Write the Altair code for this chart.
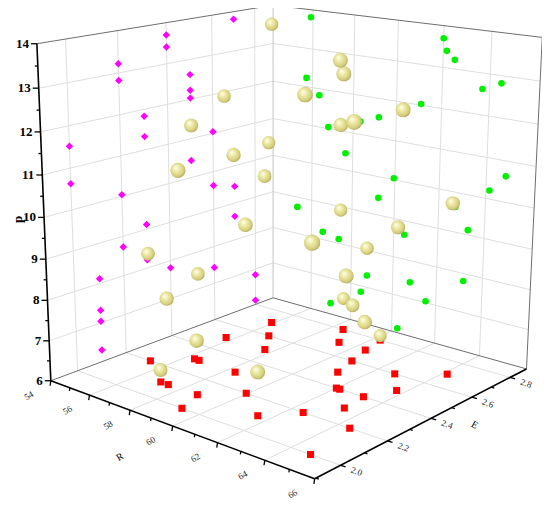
import numpy as np
import pandas as pd
import altair as alt

alt.data_transformers.disable_max_rows()

# ---------------- data ----------------
R_vals = [55.9, 62.0, 62.15, 62.5, 55.7, 56.34, 63.7, 64.47, 61.1, 59.2, 58.34, 56.8, 57.65, 59.95, 64.8,
          64.15, 59.25, 55.27, 56.57, 57.37, 60.49, 63.3, 58.77, 60.8, 63.18, 58.49, 57.0, 61.54, 60.27, 62.73]
E_vals = [2.7, 2.4, 2.4, 2.2, 2.5, 2.3, 2.5, 2.2, 2.5, 2.0, 2.3, 2.6, 2.5, 2.2, 2.0,
          2.7, 2.7, 2.2, 2.3, 2.1, 2.7, 2.3, 2.1, 2.6, 2.4, 2.8, 2.1, 2.1, 2.8, 2.6]
p_vals = [13.81, 13.70, 13.41, 13.22, 12.23, 11.83, 12.62, 12.82, 12.03, 11.52, 11.33, 11.04, 10.44, 10.04, 10.63,
          10.21, 9.45, 8.73, 8.21, 8.12, 8.64, 9.12, 7.32, 7.43, 7.81, 6.84, 6.30, 7.04, 6.12, 9.63]

R_major = [54, 56, 58, 60, 62, 64, 66]
E_major = [2.0, 2.2, 2.4, 2.6, 2.8]
p_major = [6, 7, 8, 9, 10, 11, 12, 13, 14]
R_LO, R_HI = 54, 66
E_LO, E_HI = 1.895, 2.890
P_LO, P_HI = 6, 14

# perspective camera (3x4 projection of the unit box onto the view)
CAM = np.array([[1.0412, 0.8782, 0.0043, -0.9567],
                [0.2566, -0.2948, -1.3015, 0.5630],
                [-0.1419, 0.1596, -0.0593, 1.0000]])
CX, CY, CS = 290, 240, 250


def proj(r, e, p):
    r = np.atleast_1d(np.asarray(r, float)); e = np.atleast_1d(np.asarray(e, float)); p = np.atleast_1d(np.asarray(p, float))
    u = (r - R_LO) / (R_HI - R_LO); v = (e - E_LO) / (E_HI - E_LO); w = (p - P_LO) / (P_HI - P_LO)
    q = CAM @ np.vstack([u, v, w, np.ones_like(u)])
    return CX + CS * q[0] / q[2], CY + CS * q[1] / q[2], q[2]


def segs(pairs):
    out = []
    for (a, b) in pairs:
        x1, y1, _ = proj(*a); x2, y2, _ = proj(*b)
        out.append({'x': x1[0], 'y': y1[0], 'x2': x2[0], 'y2': y2[0]})
    return pd.DataFrame(out)


R_grid = R_major[1:-1]
p_grid = p_major[1:-1]
grid = []
for e in E_major:
    grid.append(((R_LO, e, P_LO), (R_LO, e, P_HI)))
    grid.append(((R_LO, e, P_LO), (R_HI, e, P_LO)))
for pp in p_grid:
    grid.append(((R_LO, E_LO, pp), (R_LO, E_HI, pp)))
    grid.append(((R_LO, E_HI, pp), (R_HI, E_HI, pp)))
for r in R_grid:
    grid.append(((r, E_HI, P_LO), (r, E_HI, P_HI)))
    grid.append(((r, E_LO, P_LO), (r, E_HI, P_LO)))
grid_df = segs(grid)

edge_dark = segs([((R_LO, E_LO, P_HI), (R_LO, E_HI, P_HI)), ((R_LO, E_HI, P_HI), (R_HI, E_HI, P_HI)),
                  ((R_HI, E_HI, P_LO), (R_HI, E_HI, P_HI)), ((R_LO, E_LO, P_LO), (R_LO, E_HI, P_LO)),
                  ((R_LO, E_HI, P_LO), (R_HI, E_HI, P_LO))])
edge_light = segs([((R_LO, E_HI, P_LO), (R_LO, E_HI, P_HI))])
axes_df = segs([((R_LO, E_LO, P_LO), (R_LO, E_LO, P_HI)), ((R_LO, E_LO, P_LO), (R_HI, E_LO, P_LO)),
                ((R_HI, E_LO, P_LO), (R_HI, E_HI, P_LO))])

# ticks (screen-space direction and length are style)
ticks = []


def add_ticks(points, dx, dy):
    for (pt, L) in points:
        x, y, _ = proj(*pt)
        ticks.append({'x': x[0], 'y': y[0], 'x2': x[0] + dx * L, 'y2': y[0] + dy * L})


p_minor = [v + 0.5 for v in p_major[:-1]]
add_ticks([((R_LO, E_LO, v), 6) for v in p_major] + [((R_LO, E_LO, v), 3) for v in p_minor], -1, 0)
R_minor = [v + 1 for v in R_major[:-1]]
add_ticks([((v, E_LO, P_LO), 5) for v in R_major] + [((v, E_LO, P_LO), 3) for v in R_minor], -0.15, 1)
E_minor = [round(v + 0.1, 1) for v in E_major] + [1.9]
E_minor = [v for v in E_minor if E_LO < v < E_HI]
add_ticks([((R_HI, v, P_LO), 5) for v in E_major] + [((R_HI, v, P_LO), 3) for v in E_minor], 1, 0.3)
ticks_df = pd.DataFrame(ticks)


def lab(points, texts_, dx, dy):
    rows = []
    for pt, t in zip(points, texts_):
        x, y, _ = proj(*pt)
        rows.append({'x': x[0] + dx, 'y': y[0] + dy, 't': t})
    return pd.DataFrame(rows)


p_lab = lab([(R_LO, E_LO, v) for v in p_major], [str(v) for v in p_major], -8, 0)
R_lab = lab([(v, E_LO, P_LO) for v in R_major], [str(v) for v in R_major], -22, 15)
E_lab = lab([(R_HI, v, P_LO) for v in E_major], ['%.1f' % v for v in E_major], 16, 6)
p_title = lab([(R_LO, E_LO, 10.05)], ['p'], -26, 4)
R_title = lab([(59.5, E_LO, P_LO)], ['R'], -42, 35)
E_title = lab([(R_HI, 2.45, P_LO)], ['E'], 33, 12)

# points and their projections on floor / walls
sx, sy, sd = proj(R_vals, E_vals, p_vals)
fx, fy, _ = proj(R_vals, E_vals, [P_LO] * len(R_vals))
lx, ly, _ = proj([R_LO] * len(R_vals), E_vals, p_vals)
rx, ry, _ = proj(R_vals, [E_HI] * len(R_vals), p_vals)
sph = pd.DataFrame({'x': sx, 'y': sy, 'd': sd, 's': 205 * (np.mean(sd) / sd) ** 2}).sort_values('d', ascending=False)
sph['o'] = np.arange(len(sph))
floor_df = pd.DataFrame({'x': fx, 'y': fy})
left_df = pd.DataFrame({'x': lx, 'y': ly})
right_df = pd.DataFrame({'x': rx, 'y': ry})

xs = alt.Scale(domain=[8, 542])
ys = alt.Scale(domain=[8, 501], reverse=True)
X = alt.X('x:Q', scale=xs, axis=None)
Y = alt.Y('y:Q', scale=ys, axis=None)


def rules(df, color, width):
    return alt.Chart(df).mark_rule(color=color, strokeWidth=width).encode(X, Y, x2='x2:Q', y2='y2:Q')


def texts(df, **kw):
    return alt.Chart(df).mark_text(**kw).encode(X, Y, text='t:N')


grad = alt.RadialGradient(gradient='radial',
                          stops=[alt.GradientStop(offset=0, color='#fffff6'),
                                 alt.GradientStop(offset=0.3, color='#f1eeae'),
                                 alt.GradientStop(offset=0.75, color='#d5ce7e'),
                                 alt.GradientStop(offset=1, color='#a39b4e')],
                          x1=0.36, y1=0.32, r1=0, x2=0.45, y2=0.45, r2=0.62)

layers = [
    rules(grid_df, '#dedede', 1),
    rules(edge_light, '#c4c4c4', 1),
    rules(edge_dark, '#6e6e6e', 1),
    rules(axes_df, '#000000', 1.6),
    rules(ticks_df, '#000000', 1.3),
    alt.Chart(floor_df).mark_square(color='#ff0000', size=50, opacity=1).encode(X, Y),
    alt.Chart(left_df).mark_point(shape='diamond', filled=True, color='#ff00ff', size=55, opacity=1).encode(X, Y),
    alt.Chart(right_df).mark_circle(color='#00f000', size=44, opacity=1).encode(X, Y),
    alt.Chart(sph).mark_circle(color=grad, opacity=1).encode(X, Y, size=alt.Size('s:Q', scale=None, legend=None), order='o:Q'),
    texts(p_lab, align='right', baseline='middle', font='Liberation Serif', fontWeight='bold', fontSize=13),
    texts(R_lab, align='center', baseline='middle', font='Liberation Serif', fontSize=9, angle=330, color='#222222'),
    texts(E_lab, align='center', baseline='middle', font='Liberation Serif', fontSize=9, angle=20, color='#222222'),
    texts(p_title, align='center', baseline='middle', font='Liberation Serif', fontWeight='bold', fontSize=13, angle=270),
    texts(R_title, align='center', baseline='middle', font='Liberation Serif', fontSize=10, angle=330),
    texts(E_title, align='center', baseline='middle', font='Liberation Serif', fontSize=10, angle=30),
]

chart = alt.layer(*layers).properties(width=534, height=493, padding=0, autosize='none', background='white') \
    .configure_view(stroke=None)
chart.save("out.html", embed_options={"renderer": "svg", "actions": False})
